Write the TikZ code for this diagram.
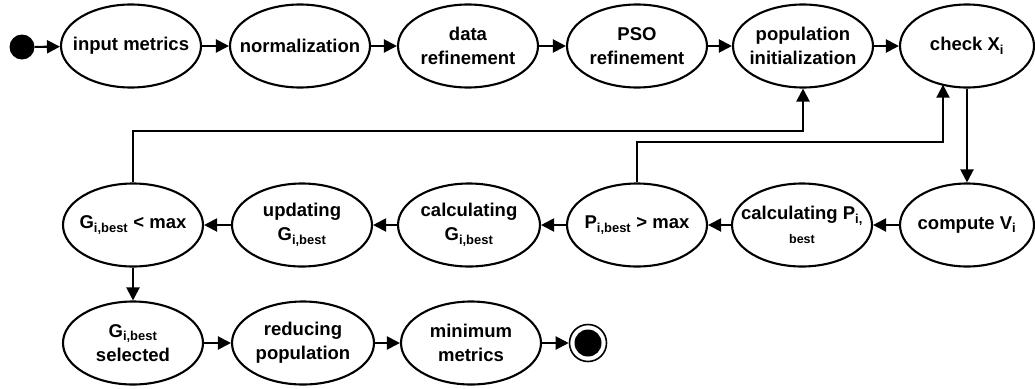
\documentclass[tikz,border=0pt]{standalone}
\usepackage{fontspec}
\setmainfont{Liberation Sans}
\usetikzlibrary{shapes.geometric,arrows.meta,calc}
\tikzset{
  st/.style={ellipse, draw, line width=2.1pt, minimum width=140pt, minimum height=83pt, inner sep=0pt},
  tx/.style={align=center, inner sep=0pt, font=\fontsize{18.5}{24}\selectfont\bfseries},
  ar/.style={line width=2.1pt, -{Triangle[length=13pt,width=13pt]}},
}
\newcommand{\sbs}[1]{\textsubscript{#1}}
\begin{document}
\begin{tikzpicture}[x=1pt,y=-1pt]
\useasboundingbox (0,0) rectangle (1035,388);
% top row
\node[circle, fill=black, minimum size=25pt, inner sep=0pt] (start) at (22,47) {};
\node[st] (inp) at (131,46) {};
\node[tx] (inp-t) at (inp) {input metrics};
\node[st] (nor) at (300,46) {};
\node[tx] (nor-t) at (nor) {normalization};
\node[st] (dat) at (468,46) {};
\node[tx] (dat-t) at (dat) {data\\refinement};
\node[st] (pso) at (637,46) {};
\node[tx] (pso-t) at (pso) {PSO\\refinement};
\node[st] (pop) at (803,46) {};
\node[tx] (pop-t) at (pop) {population\\initialization};
\node[st, minimum width=134pt] (chk) at (967,46) {};
\node[tx] (chk-t) at (chk) {check X\sbs{i}};
% middle row
\node[st] (gmax) at (133,225) {};
\node[tx] (gmax-t) at (gmax) {G\sbs{i,best} < max};
\node[st] (upd) at (302,225) {};
\node[tx] (upd-t) at (upd) {updating\\G\sbs{i,best}};
\node[st, minimum width=142pt] (clg) at (469,225) {};
\node[tx] (clg-t) at (clg) {calculating\\G\sbs{i,best}};
\node[st] (pmax) at (637,225) {};
\node[tx] (pmax-t) at (pmax) {P\sbs{i,best} > max};
\node[st] (clp) at (802,225) {};
\node[tx] (clp-t) at (clp) {calculating P\sbs{i,}\\{\fontsize{12.5}{14}\selectfont best}};
\node[st, minimum width=134pt] (cv) at (967,225) {};
\node[tx] (cv-t) at (cv) {compute V\sbs{i}};
% bottom row
\node[st] (gsel) at (133,343) {};
\node[tx] (gsel-t) at (gsel) {G\sbs{i,best}\\selected};
\node[st, minimum width=142pt] (red) at (303,343) {};
\node[tx] (red-t) at (red) {reducing\\population};
\node[st] (min) at (471,343) {};
\node[tx] (min-t) at (min) {minimum\\metrics};
\node[circle, draw, line width=1.6pt, minimum size=37pt, inner sep=0pt] (end) at (588,343) {};
\node[circle, fill=black, minimum size=27pt, inner sep=0pt] (endi) at (end) {};
% connectors top
\draw[ar] (start) -- (inp);
\draw[ar] (inp) -- (nor);
\draw[ar] (nor) -- (dat);
\draw[ar] (dat) -- (pso);
\draw[ar] (pso) -- (pop);
\draw[ar] (pop) -- (chk);
\draw[ar] (chk) -- (cv);
% middle
\draw[ar] (cv) -- (clp);
\draw[ar] (clp) -- (pmax);
\draw[ar] (pmax) -- (clg);
\draw[ar] (clg) -- (upd);
\draw[ar] (upd) -- (gmax);
% loops
\coordinate (k1) at (803,131);
\draw[ar] (gmax.north) |- (k1) -- (pop.south);
\coordinate (k2) at (943,142);
\coordinate (k2e) at ($(chk.center)+(-24,38.7)$);
\draw[ar] (pmax.north) |- (k2) -- (k2e);
% bottom
\draw[ar] (gmax) -- (gsel);
\draw[ar] (gsel) -- (red);
\draw[ar] (red) -- (min);
\draw[ar] (min) -- (end);
\end{tikzpicture}
\end{document}
